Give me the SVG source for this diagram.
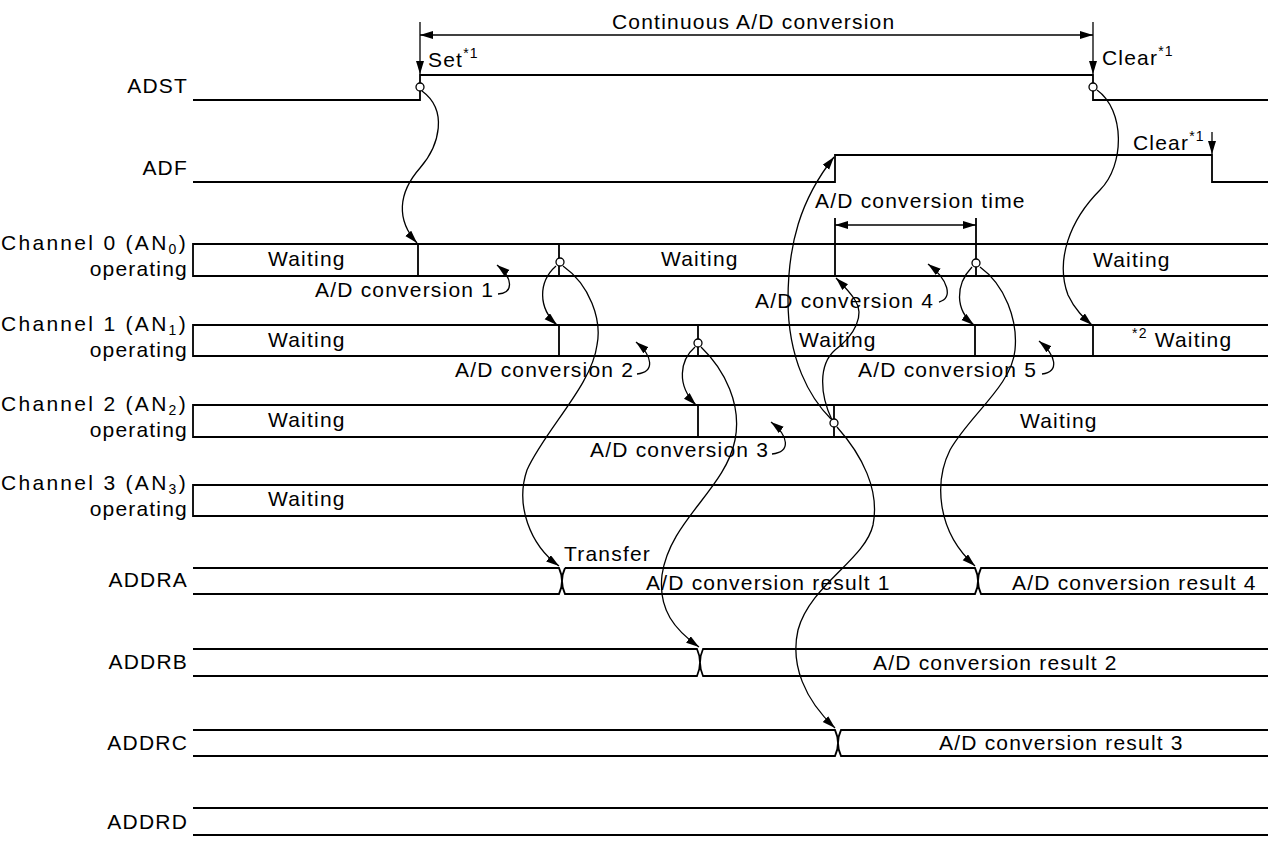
<svg xmlns="http://www.w3.org/2000/svg" width="1279" height="843" viewBox="0 0 1279 843">
<style>
.t{font-family:"Liberation Sans",Arial,sans-serif;font-size:21px;letter-spacing:1.2px;fill:#000}
.e{text-anchor:end}
.w{letter-spacing:2.3px}
.sig{fill:none;stroke:#000;stroke-width:1.8}
.c{fill:none;stroke:#000;stroke-width:1.3}
.dot{fill:#fff;stroke:#000;stroke-width:1.3}
</style>
<defs>
<marker id="ah" markerWidth="14" markerHeight="10" refX="13" refY="4" orient="auto-start-reverse" markerUnits="userSpaceOnUse"><path d="M0,0 L13,4 L0,8 Z" fill="#000"/></marker>
</defs>
<rect width="1279" height="843" fill="#fff"/>

<g id="labels">
<text class="t e" x="188" y="93">ADST</text>
<text class="t e" x="188" y="175">ADF</text>
<text class="t e w" x="188" y="250">Channel 0 (AN<tspan font-size="14" dy="4">0</tspan><tspan dy="-4">)</tspan></text>
<text class="t e" x="188" y="276">operating</text>
<text class="t e w" x="188" y="331">Channel 1 (AN<tspan font-size="14" dy="4">1</tspan><tspan dy="-4">)</tspan></text>
<text class="t e" x="188" y="357">operating</text>
<text class="t e w" x="188" y="411">Channel 2 (AN<tspan font-size="14" dy="4">2</tspan><tspan dy="-4">)</tspan></text>
<text class="t e" x="188" y="437">operating</text>
<text class="t e w" x="188" y="490">Channel 3 (AN<tspan font-size="14" dy="4">3</tspan><tspan dy="-4">)</tspan></text>
<text class="t e" x="188" y="516">operating</text>
<text class="t e" x="188" y="587">ADDRA</text>
<text class="t e" x="188" y="669">ADDRB</text>
<text class="t e" x="188" y="750">ADDRC</text>
<text class="t e" x="188" y="829">ADDRD</text>
</g>

<g id="ADST">
<path class="sig" d="M193,100 H420 V75 H1093 V100 H1268"/>
<text class="t" x="428" y="67">Set<tspan font-size="14" dy="-9">*1</tspan></text>
<text class="t" x="1102" y="65">Clear<tspan font-size="14" dy="-9">*1</tspan></text>
</g>

<g id="ADF">
<path class="sig" d="M193,182 H835 V155 H1212 V182 H1268"/>
<text class="t" x="1133" y="150">Clear<tspan font-size="14" dy="-9">*1</tspan></text>
</g>

<g id="ch0">
<path class="sig" d="M1268,244 H193 V276 H1268 M418,244 V276 M559,244 V276 M835,218 V276 M976,218 V276"/>
<text class="t" x="268" y="266">Waiting</text>
<text class="t" x="661" y="266">Waiting</text>
<text class="t" x="1093" y="267">Waiting</text>
</g>

<g id="ch1">
<path class="sig" d="M1268,325 H193 V356 H1268 M559,325 V356 M698,325 V356 M975,325 V356 M1093,325 V356"/>
<text class="t" x="268" y="347">Waiting</text>
<text class="t" x="799" y="347">Waiting</text>
<text class="t" x="1132" y="347"><tspan font-size="14" dy="-9">*2</tspan><tspan dy="9"> Waiting</tspan></text>
</g>

<g id="ch2">
<path class="sig" d="M1268,405 H193 V437 H1268 M698,405 V437 M834,405 V437"/>
<text class="t" x="268" y="427">Waiting</text>
<text class="t" x="1020" y="428">Waiting</text>
</g>

<g id="ch3">
<path class="sig" d="M1268,485 H193 V516 H1268"/>
<text class="t" x="268" y="506">Waiting</text>
</g>

<g id="ADDRA">
<path class="sig" d="M193,568 H559 Q565,581 559,594 H193 M565,568 H975 Q981,581 975,594 H565 Q559,581 565,568 M1268,568 H981 Q975,581 981,594 H1268"/>
<text class="t" x="564" y="561">Transfer</text>
<text class="t" x="646" y="590">A/D conversion result 1</text>
<text class="t" x="1012" y="590">A/D conversion result 4</text>
</g>

<g id="ADDRB">
<path class="sig" d="M193,649 H697 Q703,662.5 697,676 H193 M1268,649 H703 Q697,662.5 703,676 H1268"/>
<text class="t" x="873" y="670">A/D conversion result 2</text>
</g>

<g id="ADDRC">
<path class="sig" d="M193,730 H835 Q841,743 835,756 H193 M1268,730 H841 Q835,743 841,756 H1268"/>
<text class="t" x="939" y="750">A/D conversion result 3</text>
</g>

<g id="ADDRD">
<path class="sig" d="M193,808 H1268 M193,835 H1268"/>
</g>

<g id="annotations">
<text class="t" x="612" y="29">Continuous A/D conversion</text>
<text class="t" x="815" y="208">A/D conversion time</text>
<text class="t" x="315" y="297">A/D conversion 1</text>
<text class="t" x="455" y="377">A/D conversion 2</text>
<text class="t" x="590" y="457">A/D conversion 3</text>
<text class="t" x="755" y="308">A/D conversion 4</text>
<text class="t" x="858" y="377">A/D conversion 5</text>
</g>

<g id="connectors">
<path class="c" d="M420,35 H1093" marker-start="url(#ah)" marker-end="url(#ah)"/>
<path class="c" d="M420,22 V74" marker-end="url(#ah)"/>
<path class="c" d="M1093,22 V74" marker-end="url(#ah)"/>
<path class="c" d="M1212,132 V154" marker-end="url(#ah)"/>
<path class="c" d="M835,225 H976" marker-start="url(#ah)" marker-end="url(#ah)"/>
<path class="c" d="M422,91 C448,110 440,145 420,168 C398,193 396,220 417,243" marker-end="url(#ah)"/>
<path class="c" d="M1097,90 C1125,110 1125,165 1100,190 C1070,220 1055,260 1068,295 C1075,310 1084,318 1092,325" marker-end="url(#ah)"/>
<path class="c" d="M556,266 C538,282 538,308 557,325" marker-end="url(#ah)"/>
<path class="c" d="M563,266 C590,285 602,320 597,345 C592,385 545,430 527,470 C515,505 530,545 559,566" marker-end="url(#ah)"/>
<path class="c" d="M695,347 C680,360 676,385 696,405" marker-end="url(#ah)"/>
<path class="c" d="M701,347 C725,370 742,405 735,440 C725,490 670,520 662,575 C658,610 675,630 699,647" marker-end="url(#ah)"/>
<path class="c" d="M831,419 C810,398 788,360 788,300 C788,245 800,200 834,157" marker-end="url(#ah)"/>
<path class="c" d="M832,420 C820,395 818,365 835,350 C855,335 865,315 855,300 C850,292 843,285 836,278" marker-end="url(#ah)"/>
<path class="c" d="M837,427 C862,455 880,490 873,525 C865,560 810,585 798,630 C790,665 805,700 835,728" marker-end="url(#ah)"/>
<path class="c" d="M972,267 C955,285 955,310 974,325" marker-end="url(#ah)"/>
<path class="c" d="M980,267 C1005,285 1018,320 1015,350 C1012,385 970,415 950,450 C935,480 935,530 975,566" marker-end="url(#ah)"/>
<path class="c" d="M498,294 C514,293 513,278 497,265" marker-end="url(#ah)"/>
<path class="c" d="M637,374 C655,372 653,356 636,342" marker-end="url(#ah)"/>
<path class="c" d="M772,454 C791,452 789,436 771,422" marker-end="url(#ah)"/>
<path class="c" d="M939,302 C953,298 949,280 928,264" marker-end="url(#ah)"/>
<path class="c" d="M1042,374 C1060,372 1056,355 1039,341" marker-end="url(#ah)"/>
<circle class="dot" cx="420" cy="87" r="4"/>
<circle class="dot" cx="1093" cy="87" r="4"/>
<circle class="dot" cx="560" cy="262" r="4"/>
<circle class="dot" cx="976" cy="263" r="4"/>
<circle class="dot" cx="698" cy="343" r="4"/>
<circle class="dot" cx="834" cy="423" r="4"/>
</g>
</svg>
